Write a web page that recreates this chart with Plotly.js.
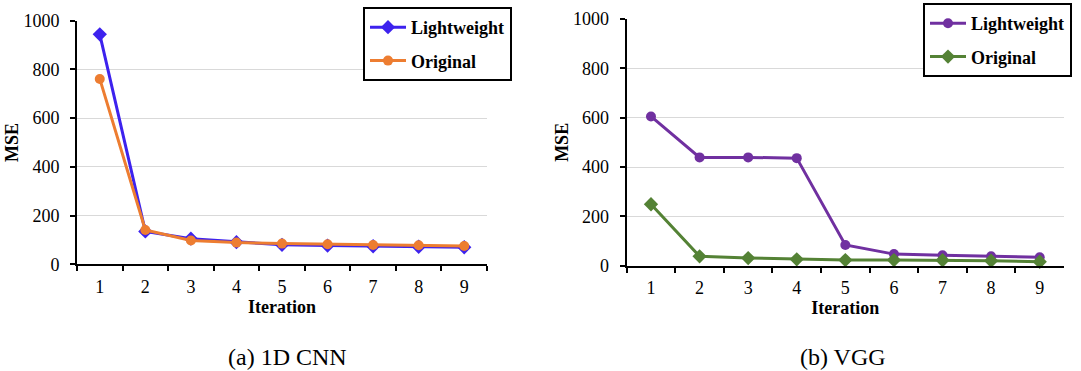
<!DOCTYPE html>
<html>
<head>
<meta charset="utf-8">
<script src="https://cdn.plot.ly/plotly-3.0.1.min.js"></script>
<style>
  html, body { margin: 0; padding: 0; background: #fff; }
  #chart { width: 1081px; height: 371px; }
</style>
</head>
<body>
<div id="chart"></div>
<script>
// Training iterations shared by both panels
const iterations = ['1', '2', '3', '4', '5', '6', '7', '8', '9'];

// (a) 1D CNN: MSE per iteration
const cnnLightweight = [944, 135, 105, 91, 80, 77, 74, 72, 70];
const cnnOriginal    = [761, 141, 98, 89, 85, 82, 79, 78, 75];

// (b) VGG: MSE per iteration
const vggLightweight = [605, 439, 439, 436, 84, 47, 42, 38, 34];
const vggOriginal    = [249, 38, 31, 26, 23, 23, 22, 20, 16];

const yTicks = [0, 200, 400, 600, 800, 1000];
const panelCaptions = ['(a) 1D CNN', '(b) VGG'];

const FONT = "'Liberation Serif', 'Times New Roman', Times, serif";
const W = 1081, H = 371;
const px = v => v / W;
const py = v => (H - v) / H;

function series(x, y, name, color, symbol, xa, ya, legend) {
  return {
    type: 'scatter', mode: 'lines+markers',
    x: x, y: y, name: name,
    xaxis: xa, yaxis: ya, legend: legend, legendgroup: legend + name,
    line: { color: color, width: 3 },
    marker: { color: color, symbol: symbol, size: symbol === 'diamond' ? 11 : 10 },
    cliponaxis: false
  };
}

const data = [
  series(iterations, cnnLightweight, 'Lightweight', '#3d22ee', 'diamond', 'x', 'y', 'legend'),
  series(iterations, cnnOriginal, 'Original', '#ed7d31', 'circle', 'x', 'y', 'legend'),
  series(iterations, vggLightweight, 'Lightweight', '#7030a0', 'circle', 'x2', 'y2', 'legend2'),
  series(iterations, vggOriginal, 'Original', '#548235', 'diamond', 'x2', 'y2', 'legend2')
];

function xAxis(domain, anchor) {
  return {
    domain: domain, anchor: anchor, type: 'category',
    range: [-0.5, 8.5], tickson: 'boundaries',
    showline: true, linecolor: '#000', linewidth: 2,
    ticks: 'outside', ticklen: 5, tickwidth: 2, tickcolor: '#000',
    ticklabelstandoff: 5,
    showgrid: false, zeroline: false,
    tickfont: { family: FONT, size: 18, color: '#000' },
    title: { text: '<b>Iteration</b>', font: { family: FONT, size: 18, color: '#000' }, standoff: 4 }
  };
}

function yAxis(domain, anchor) {
  return {
    domain: domain, anchor: anchor, range: [0, 1000],
    tickvals: yTicks, ticktext: yTicks.map(String),
    showline: true, linecolor: '#000', linewidth: 2,
    ticks: 'outside', ticklen: 5, tickwidth: 2, tickcolor: '#000',
    ticklabelstandoff: 7,
    showgrid: true, gridcolor: '#d9d9d9', gridwidth: 1, zeroline: false,
    tickfont: { family: FONT, size: 18, color: '#000' },
    title: { text: '<b>MSE</b>', font: { family: FONT, size: 18, color: '#000' }, standoff: 0 }
  };
}

function legendBox(x, y) {
  return {
    x: x, y: y, xanchor: 'left', yanchor: 'top',
    bgcolor: '#fff', bordercolor: '#000', borderwidth: 2,
    font: { family: FONT, size: 18, color: '#000', weight: 'bold' },
    tracegroupgap: 7, itemwidth: 36
  };
}

const layout = {
  width: W, height: H,
  margin: { l: 0, r: 0, t: 0, b: 0 },
  paper_bgcolor: '#fff', plot_bgcolor: '#fff',
  showlegend: true,
  xaxis: xAxis([px(77), px(487)], 'y'),
  yaxis: yAxis([py(264.3), py(20.7)], 'x'),
  xaxis2: xAxis([px(626.7), px(1064)], 'y2'),
  yaxis2: yAxis([py(265.7), py(19)], 'x2'),
  legend: legendBox(px(363), py(7)),
  legend2: legendBox(px(923), py(3)),
  annotations: [
    { text: panelCaptions[0], x: px(287), y: py(357), xref: 'paper', yref: 'paper',
      showarrow: false, xanchor: 'center', yanchor: 'middle',
      font: { family: FONT, size: 24, color: '#000' } },
    { text: panelCaptions[1], x: px(843), y: py(357), xref: 'paper', yref: 'paper',
      showarrow: false, xanchor: 'center', yanchor: 'middle',
      font: { family: FONT, size: 24, color: '#000' } }
  ]
};

Plotly.newPlot('chart', data, layout, { staticPlot: true, displayModeBar: false });
</script>
</body>
</html>
